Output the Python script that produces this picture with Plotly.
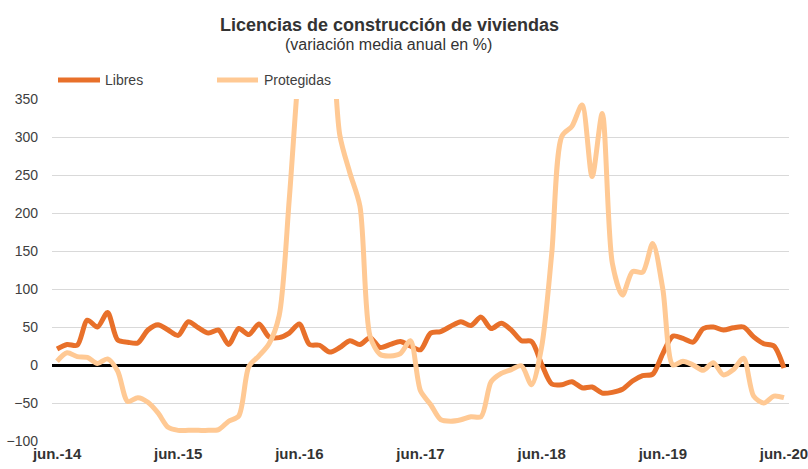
import plotly.graph_objects as go

months = list(range(73))
tick_pos = [0, 12, 24, 36, 48, 60, 72]
tick_text = ["jun.-14", "jun.-15", "jun.-16", "jun.-17", "jun.-18", "jun.-19", "jun.-20"]
y_ticks = [-100, -50, 0, 50, 100, 150, 200, 250, 300, 350]

libres = [21, 27, 26, 59, 50, 69, 33, 30, 29, 46,
          53, 46, 39, 57, 49, 42, 46, 27, 48, 40,
          54, 37, 36, 42, 54, 27, 26, 17, 23, 32,
          27, 36, 23, 27, 31, 25, 20, 42, 44, 51,
          57, 52, 63, 48, 55, 46, 32, 31, 1, -25,
          -26, -22, -30, -29, -37, -36, -32, -21, -14, -12,
          15, 38, 35, 30, 48, 50, 46, 49, 50, 37,
          28, 25, -4]

protegidas = [5, 16, 11, 10, 2, 8, -8, -48, -43, -49,
              -63, -82, -86, -86, -86, -86, -85, -74, -67, -2,
              12, 28, 65, 218, 400, 520, 540, 480, 303, 253,
              209, 38, 14, 12, 15, 32, -34, -52, -72, -74,
              -72, -68, -68, -22, -11, -6, -1, -26, 24, 147,
              301, 314, 342, 248, 331, 134, 92, 123, 122, 160,
              100, 0, 5, 0, -7, 3, -13, -6, 9, -41,
              -50, -41, -43]

C_LIB = "#E8702A"
C_PRO = "#FFC994"
W, H = 808, 469
L, R, T, B = 52, 19, 99, 28
pw, ph = W - L - R, H - T - B


def px(x):
    return (x - L) / pw


def py(y):
    return (H - B - y) / ph


fig = go.Figure()
fig.add_trace(go.Scatter(x=months, y=libres, name="Libres", mode="lines",
                         line=dict(color=C_LIB, width=5, shape="spline", smoothing=0.8)))
fig.add_trace(go.Scatter(x=months, y=protegidas, name="Protegidas", mode="lines",
                         line=dict(color=C_PRO, width=5, shape="spline", smoothing=0.8)))

shapes = []
annotations = []
for name, col, x0, x1, xt in [("Libres", C_LIB, 58, 100, 103), ("Protegidas", C_PRO, 217, 258, 262)]:
    shapes.append(dict(type="line", xref="paper", yref="paper", x0=px(x0), x1=px(x1),
                       y0=py(80), y1=py(80), line=dict(color=col, width=5)))
    annotations.append(dict(text=name, xref="paper", yref="paper", x=px(xt), y=py(80),
                            xanchor="left", yanchor="middle", showarrow=False,
                            font=dict(size=14, color="#404040")))

annotations.append(dict(text="<b>Licencias de construcción de viviendas</b>", xref="paper", yref="paper",
                        x=px(389), y=py(25), xanchor="center", yanchor="middle", showarrow=False,
                        font=dict(size=18, color="#333333")))
annotations.append(dict(text="(variación media anual en %)", xref="paper", yref="paper",
                        x=px(388), y=py(45), xanchor="center", yanchor="middle", showarrow=False,
                        font=dict(size=16, color="#333333")))

fig.update_layout(
    width=W, height=H,
    margin=dict(l=L, r=R, t=T, b=B, autoexpand=False),
    paper_bgcolor="white", plot_bgcolor="white",
    font=dict(family="Liberation Sans, Arial, sans-serif", color="#404040", size=14),
    showlegend=False,
    shapes=shapes,
    annotations=annotations,
)
fig.update_xaxes(range=[-0.5, 72.5], tickmode="array", tickvals=tick_pos,
                 ticktext=["<b>" + t + "</b>" for t in tick_text],
                 showgrid=False, zeroline=False, showline=False, ticks="", automargin=False,
                 ticklabeloverflow="allow",
                 tickfont=dict(size=15, color="#333333"),
                 ticklabelstandoff=2)
fig.update_yaxes(range=[-100, 350], tickmode="array", tickvals=y_ticks,
                 showgrid=True, gridcolor="#D9D9D9", gridwidth=1, automargin=False,
                 zeroline=True, zerolinecolor="black", zerolinewidth=3,
                 showline=False, ticks="", tickfont=dict(size=14, color="#404040"),
                 ticklabelstandoff=13)

fig.write_html("out.html", config={"displayModeBar": False},
               post_script="document.body.style.margin='0';document.body.style.overflow='hidden';")
